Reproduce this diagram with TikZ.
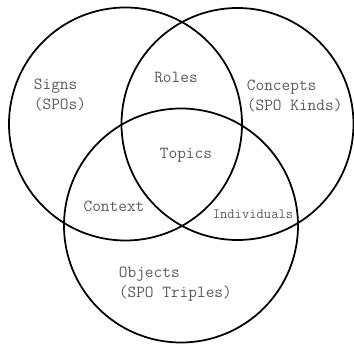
\documentclass[tikz,border=0pt]{standalone}
\usepackage{xcolor}
\definecolor{venntext}{HTML}{5A5A5A}

\tikzset{
  setlabel/.style={text=venntext, font=\ttfamily\fontsize{14.4}{16.5}\selectfont, inner sep=0pt},
  smalllabel/.style={setlabel, font=\ttfamily\fontsize{12.1}{13}\selectfont}
}

\begin{document}
\begin{tikzpicture}[x=0.03cm, y=-0.03cm, line width=1.5pt]
		\useasboundingbox (0,0) rectangle (354,345);
		% the three sets
		\draw (125.5,124) circle [radius=116.5];
		\draw (237.5,124) circle [radius=116];
		\draw (181,225.5) circle [radius=117];
		% labels
		\node[setlabel, anchor=west, align=left] (signs) at (33,95) {Signs\\(SPOs)};
		\node[setlabel, anchor=west, align=left] (concepts) at (246,96) {Concepts\\(SPO Kinds)};
		\node[setlabel, anchor=west, align=left] (objects) at (118,284) {Objects\\(SPO Triples)};
		\node[setlabel] (roles) at (176,77) {Roles};
		\node[setlabel] (topics) at (186,155) {Topics};
		\node[setlabel] (context) at (114,206) {Context};
		\node[smalllabel] (individuals) at (253,214) {Individuals};
	\end{tikzpicture}
\end{document}
